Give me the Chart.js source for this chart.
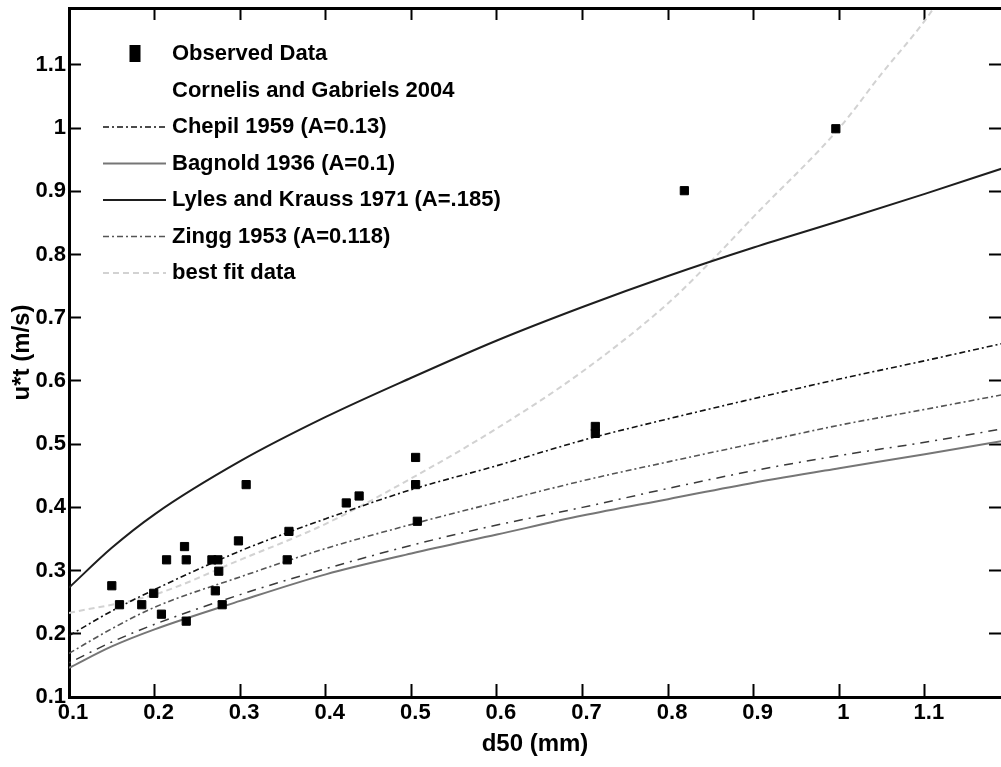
<!DOCTYPE html>
<html>
<head>
<meta charset="utf-8">
<script src="https://cdn.jsdelivr.net/npm/chart.js@4/dist/chart.umd.min.js"></script>
<style>
  html, body { margin: 0; padding: 0; background: #fff; }
  canvas { display: block; }
</style>
</head>
<body>
<canvas id="myChart" width="1001" height="767"></canvas>
<script>
"use strict";

// Observed data (d50 in mm, threshold friction velocity in m/s)
const obsD50 = [0.150, 0.159, 0.185, 0.199, 0.208, 0.214, 0.235, 0.237, 0.237, 0.267, 0.274,
                0.271, 0.275, 0.279, 0.298, 0.307, 0.355, 0.357, 0.424, 0.439, 0.505, 0.505,
                0.507, 0.715, 0.715, 0.819, 0.996];
const obsUt  = [0.276, 0.246, 0.246, 0.264, 0.231, 0.317, 0.338, 0.317, 0.220, 0.317, 0.317,
                0.268, 0.299, 0.246, 0.347, 0.436, 0.317, 0.362, 0.407, 0.418, 0.479, 0.436,
                0.378, 0.528, 0.517, 0.901, 0.999];

// Model curves at these grain sizes
const curveD50  = [0.1, 0.15, 0.2, 0.3, 0.4, 0.5, 0.6, 0.7, 0.8, 0.9, 1.0, 1.1, 1.19];
const cornelis  = [0.154, 0.187, 0.215, 0.262, 0.303, 0.340, 0.372, 0.400, 0.430, 0.458, 0.482, 0.503, 0.524];
const chepil    = [0.197, 0.236, 0.270, 0.331, 0.382, 0.428, 0.466, 0.506, 0.540, 0.572, 0.603, 0.632, 0.659];
const bagnold   = [0.146, 0.180, 0.207, 0.252, 0.294, 0.327, 0.357, 0.387, 0.413, 0.439, 0.462, 0.484, 0.505];
const lyles     = [0.273, 0.336, 0.389, 0.473, 0.543, 0.605, 0.664, 0.717, 0.766, 0.811, 0.853, 0.896, 0.936];
const zingg     = [0.169, 0.208, 0.242, 0.290, 0.335, 0.373, 0.408, 0.442, 0.472, 0.501, 0.530, 0.555, 0.578];

const bestFitD50 = [0.1, 0.2, 0.3, 0.4, 0.5, 0.6, 0.7, 0.8, 0.86, 0.9, 1.0, 1.05, 1.1, 1.13];
const bestFit    = [0.233, 0.262, 0.317, 0.374, 0.446, 0.525, 0.615, 0.723, 0.803, 0.860, 1.0, 1.087, 1.17, 1.23];

const xTicks = [0.1, 0.2, 0.3, 0.4, 0.5, 0.6, 0.7, 0.8, 0.9, 1.0, 1.1];
const yTicks = [0.1, 0.2, 0.3, 0.4, 0.5, 0.6, 0.7, 0.8, 0.9, 1.0, 1.1];

const FONT = '"Liberation Sans", Arial, Helvetica, sans-serif';
const tickFont = { family: FONT, size: 22, weight: "bold" };
const titleFont = { family: FONT, size: 24, weight: "bold" };

const pts = (xs, ys) => xs.map((x, i) => ({ x: x, y: ys[i] }));
const fmt = (v) => String(Math.round(v * 10) / 10);

function curve(label, xs, ys, color, width, dash, extra) {
    return Object.assign({
        label: label,
        data: pts(xs, ys),
        showLine: true,
        borderColor: color,
        backgroundColor: color,
        borderWidth: width,
        borderDash: dash,
        pointRadius: 0,
        cubicInterpolationMode: "monotone",
        fill: false,
    }, extra || {});
}

// legend drawn inside the axes, MATLAB style
const insideLegend = {
    id: "insideLegend",
    afterDatasetsDraw(chart, args, opts) {
        const ctx = chart.ctx;
        ctx.save();
        ctx.font = "bold " + opts.fontSize + "px " + FONT;
        ctx.textBaseline = "middle";
        chart.data.datasets.forEach((ds, i) => {
            const y = opts.top + i * opts.step;
            if (ds.showLine === false) {
                ctx.fillStyle = ds.backgroundColor;
                ctx.fillRect((opts.x0 + opts.x1) / 2 - 5, y - 9, 11, 17);
            } else if (ds.legendLine !== false) {
                ctx.beginPath();
                ctx.strokeStyle = ds.borderColor;
                ctx.lineWidth = ds.borderWidth;
                ctx.setLineDash(ds.borderDash || []);
                ctx.moveTo(opts.x0, y);
                ctx.lineTo(opts.x1, y);
                ctx.stroke();
                ctx.setLineDash([]);
            }
            ctx.fillStyle = "#000";
            ctx.fillText(ds.label, opts.textX, y);
        });
        ctx.restore();
    },
};

const data = {
    datasets: [
        {
            label: "Observed Data",
            data: pts(obsD50, obsUt),
            showLine: false,
            pointStyle: "rect",
            pointRadius: 5.8,
            borderWidth: 1,
            backgroundColor: "#000",
            borderColor: "#000",
        },
        curve("Cornelis and Gabriels 2004", curveD50, cornelis, "#3a3a3a", 1.5, [2, 6, 9, 6], { legendLine: false }),
        curve("Chepil 1959 (A=0.13)", curveD50, chepil, "#111", 1.6, [6, 3, 2, 3]),
        curve("Bagnold 1936 (A=0.1)", curveD50, bagnold, "#767676", 2, []),
        curve("Lyles and Krauss 1971 (A=.185)", curveD50, lyles, "#1e1e1e", 2, []),
        curve("Zingg 1953 (A=0.118)", curveD50, zingg, "#555", 1.6, [6, 3, 2, 3]),
        curve("best fit data", bestFitD50, bestFit, "#d2d2d2", 2, [6, 4]),
    ],
};

const frameGrid = { drawOnChartArea: false, drawTicks: true, tickLength: -12, tickWidth: 2, tickColor: "#000" };
const frameBorder = { color: "#000", width: 3 };
const noPadX = (s, h) => { s.height = h; s.paddingLeft = 0; s.paddingRight = 0; };
const noPadY = (s, w) => { s.width = w; s.paddingTop = 0; s.paddingBottom = 0; };

const config = {
    type: "scatter",
    data: data,
    plugins: [insideLegend],
    options: {
        responsive: false,
        animation: false,
        events: [],
        layout: { autoPadding: false, padding: 0 },
        scales: {
            x: {
                type: "linear",
                position: "bottom",
                min: 0.1,
                max: 1.189,
                afterBuildTicks: (s) => { s.ticks = xTicks.map((v) => ({ value: v })); },
                afterFit: (s) => noPadX(s, 70),
                grid: Object.assign({}, frameGrid, { tickLength: -13 }),
                border: frameBorder,
                ticks: { color: "#000", font: tickFont, padding: 16, labelOffset: 4, maxRotation: 0, autoSkip: false, callback: fmt },
                title: { display: true, text: "d50 (mm)", color: "#000", font: titleFont, padding: { top: 0, bottom: 8 } },
            },
            x2: {
                type: "linear",
                position: "top",
                min: 0.1,
                max: 1.189,
                afterBuildTicks: (s) => { s.ticks = xTicks.map((v) => ({ value: v })); },
                afterFit: (s) => noPadX(s, 8),
                grid: frameGrid,
                border: frameBorder,
                ticks: { display: false },
            },
            y: {
                type: "linear",
                position: "left",
                min: 0.1,
                max: 1.19,
                afterBuildTicks: (s) => { s.ticks = yTicks.map((v) => ({ value: v })); },
                afterFit: (s) => noPadY(s, 69),
                grid: frameGrid,
                border: frameBorder,
                ticks: { color: "#000", font: tickFont, padding: 15, callback: fmt },
                title: { display: true, text: "u*t (m/s)", color: "#000", font: titleFont, padding: { top: 8, bottom: 0 } },
            },
            y2: {
                type: "linear",
                position: "right",
                min: 0.1,
                max: 1.19,
                afterBuildTicks: (s) => { s.ticks = yTicks.map((v) => ({ value: v })); },
                afterFit: (s) => noPadY(s, 0),
                grid: frameGrid,
                border: { display: false },
                ticks: { display: false },
            },
        },
        plugins: {
            legend: { display: false },
            tooltip: { enabled: false },
            insideLegend: { x0: 103, x1: 166, textX: 172, top: 54, step: 36.5, fontSize: 22 },
        },
    },
};

const myChart = new Chart(document.getElementById("myChart"), config);
</script>
</body>
</html>
